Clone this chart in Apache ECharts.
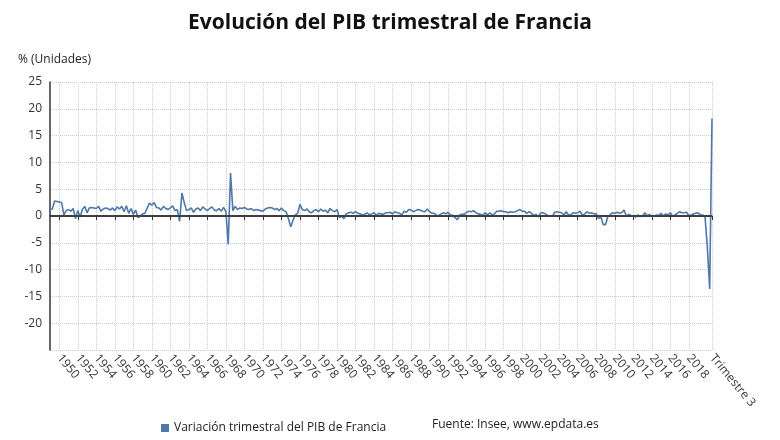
<!DOCTYPE html>
<html>
<head>
<meta charset="utf-8">
<script src="https://cdn.jsdelivr.net/npm/echarts@6/dist/echarts.min.js"></script>
<style>html,body{margin:0;padding:0;background:#fff}#chart{width:780px;height:440px}</style>
</head>
<body>
<div id="chart"></div>
<script>
// años del primero al último, trimestres 1..4
var firstYear = 1949;
var lastYear = 2020;
var quarterNames = ['', 'Trimestre 2', 'Trimestre 3', 'Trimestre 4'];
var yTicks = [-20, -15, -10, -5, 0, 5, 10, 15, 20, 25];

// variación trimestral (%), un renglón por año
var gdp = [
  1.2, 1.3, 2.8, 2.7,     // 1949
  2.6, 2.5, 0.2, 1.0,     // 1950
  1.2, 0.9, 1.4, -0.5,    // 1951
  1.0, -0.2, 1.2, 1.8,    // 1952
  0.6, 1.5, 1.6, 1.5,     // 1953
  1.4, 1.8, 0.9, 1.3,     // 1954
  1.5, 1.4, 1.1, 1.5,     // 1955
  1.0, 1.7, 1.3, 1.8,     // 1956
  0.8, 1.9, 0.5, 1.4,     // 1957
  0.3, 1.1, -0.3, 0.0,    // 1958
  0.4, 0.5, 1.5, 2.4,     // 1959
  2.0, 2.5, 1.6, 1.5,     // 1960
  1.1, 1.8, 1.4, 1.2,     // 1961
  1.5, 1.9, 1.0, 1.2,     // 1962
  -1.0, 4.3, 2.5, 1.0,    // 1963
  1.2, 1.5, 0.7, 1.3,     // 1964
  1.5, 1.0, 1.7, 1.3,     // 1965
  1.0, 1.4, 1.7, 1.1,     // 1966
  1.0, 1.4, 0.9, 1.6,     // 1967
  0.8, -5.3, 8.0, 1.0,    // 1968
  1.8, 1.2, 1.5, 1.4,     // 1969
  1.6, 1.3, 1.2, 1.4,     // 1970
  1.0, 1.2, 1.1, 1.0,     // 1971
  0.9, 1.3, 1.5, 1.6,     // 1972
  1.5, 1.2, 1.4, 1.0,     // 1973
  1.5, 1.0, 0.8, -0.5,    // 1974
  -2.0, -0.8, 0.2, 0.5,   // 1975
  2.2, 1.2, 1.0, 1.3,     // 1976
  0.8, 0.6, 1.0, 1.2,     // 1977
  0.8, 1.3, 0.9, 1.1,     // 1978
  0.6, 1.4, 1.0, 0.8,     // 1979
  1.2, -0.3, 0.0, -0.5,   // 1980
  0.4, 0.6, 0.7, 0.5,     // 1981
  0.8, 0.5, 0.4, 0.2,     // 1982
  0.3, 0.6, 0.2, 0.4,     // 1983
  0.6, 0.1, 0.5, 0.4,     // 1984
  0.3, 0.6, 0.6, 0.7,     // 1985
  0.4, 0.8, 0.6, 0.5,     // 1986
  0.2, 0.9, 0.7, 1.2,     // 1987
  1.1, 0.8, 1.0, 1.2,     // 1988
  1.1, 0.9, 0.8, 1.3,     // 1989
  0.8, 0.5, 0.5, 0.1,     // 1990
  0.1, 0.4, 0.6, 0.4,     // 1991
  0.7, 0.1, 0.2, -0.3,    // 1992
  -0.7, 0.2, 0.3, 0.3,    // 1993
  0.7, 0.9, 0.8, 1.0,     // 1994
  0.6, 0.4, 0.3, 0.1,     // 1995
  0.6, 0.2, 0.6, 0.2,     // 1996
  0.4, 0.9, 0.9, 1.0,     // 1997
  0.8, 0.8, 0.6, 0.8,     // 1998
  0.7, 0.8, 1.0, 1.2,     // 1999
  0.9, 0.9, 0.5, 0.8,     // 2000
  0.5, 0.1, 0.3, -0.2,    // 2001
  0.6, 0.6, 0.4, 0.1,     // 2002
  0.0, -0.1, 0.7, 0.8,    // 2003
  0.7, 0.6, 0.2, 0.8,     // 2004
  0.2, 0.2, 0.6, 0.5,     // 2005
  0.6, 0.9, 0.1, 0.4,     // 2006
  0.8, 0.5, 0.6, 0.4,     // 2007
  0.4, -0.5, -0.2, -1.6,  // 2008
  -1.6, -0.1, 0.2, 0.6,   // 2009
  0.5, 0.7, 0.5, 0.6,     // 2010
  1.1, 0.0, 0.3, 0.1,     // 2011
  0.0, -0.2, 0.2, -0.1,   // 2012
  0.0, 0.6, 0.0, 0.3,     // 2013
  -0.1, 0.0, 0.2, 0.1,    // 2014
  0.5, 0.0, 0.4, 0.2,     // 2015
  0.6, -0.1, 0.2, 0.5,    // 2016
  0.8, 0.6, 0.6, 0.7,     // 2017
  0.1, 0.2, 0.4, 0.5,     // 2018
  0.6, 0.2, 0.2, -0.2,    // 2019
  -5.9, -13.6, 18.2       // 2020
];

var categories = [];
for (var y = firstYear; y <= lastYear; y++) {
  for (var q = 0; q < 4; q++) {
    categories.push(q === 0 ? String(y) : quarterNames[q]);
  }
}
categories = categories.slice(0, gdp.length);
var lastIdx = categories.length - 1;

function shown(i, v) {
  return (/^\d{4}$/.test(v) && +v % 2 === 0 && +v < lastYear) || i === lastIdx;
}

var chart = echarts.init(document.getElementById('chart'));
var font = '"Open Sans", "Noto Sans", sans-serif';

var option = {
  animation: false,
  textStyle: { fontFamily: font },
  title: {
    text: 'Evolución del PIB trimestral de Francia',
    left: 'center', top: 8,
    textStyle: { fontSize: 21, fontWeight: 'bold', color: '#111', fontFamily: font }
  },
  graphic: [
    { type: 'text', left: 18, top: 54, style: { text: '% (Unidades)', fontSize: 12, fill: '#222', fontFamily: font } },
    { type: 'text', left: 432, top: 419, style: { text: 'Fuente: Insee, www.epdata.es', fontSize: 12, fill: '#222', fontFamily: font } }
  ],
  legend: {
    left: 156, top: 417, itemWidth: 8, itemHeight: 8, icon: 'rect',
    textStyle: { fontSize: 12, color: '#222', fontFamily: font }
  },
  grid: { left: 50, right: 68, top: 82, bottom: 90 },
  xAxis: {
    type: 'category',
    data: categories,
    boundaryGap: false,
    axisLine: { lineStyle: { color: '#333', width: 1.5 } },
    axisTick: { length: 4, lineStyle: { color: '#333' }, interval: shown },
    axisLabel: { rotate: -50, color: '#333', fontSize: 12, margin: 6, interval: shown },
    splitLine: { show: true, interval: shown, lineStyle: { color: '#ccc', type: 'dotted' } }
  },
  yAxis: {
    type: 'value', min: -25, max: 25, interval: 5,
    axisLine: { show: true, lineStyle: { color: '#333', width: 1.5 } },
    axisTick: { show: false },
    axisLabel: {
      color: '#333', fontSize: 12,
      formatter: function (v) { return yTicks.indexOf(v) >= 0 ? String(v) : ''; }
    },
    splitLine: { lineStyle: { color: '#ccc', type: 'dotted' } }
  },
  series: [{
    name: 'Variación trimestral del PIB de Francia',
    type: 'line',
    data: gdp,
    symbol: 'none',
    itemStyle: { color: '#4e78a8' },
    lineStyle: { color: '#4e78a8', width: 1.6 },
    markLine: {
      silent: true, symbol: 'none', label: { show: false },
      lineStyle: { color: '#333', type: 'solid', width: 1.6 },
      data: [{ yAxis: 0 }]
    },
    z: 3
  }]
};
chart.setOption(option);
</script>
</body>
</html>
